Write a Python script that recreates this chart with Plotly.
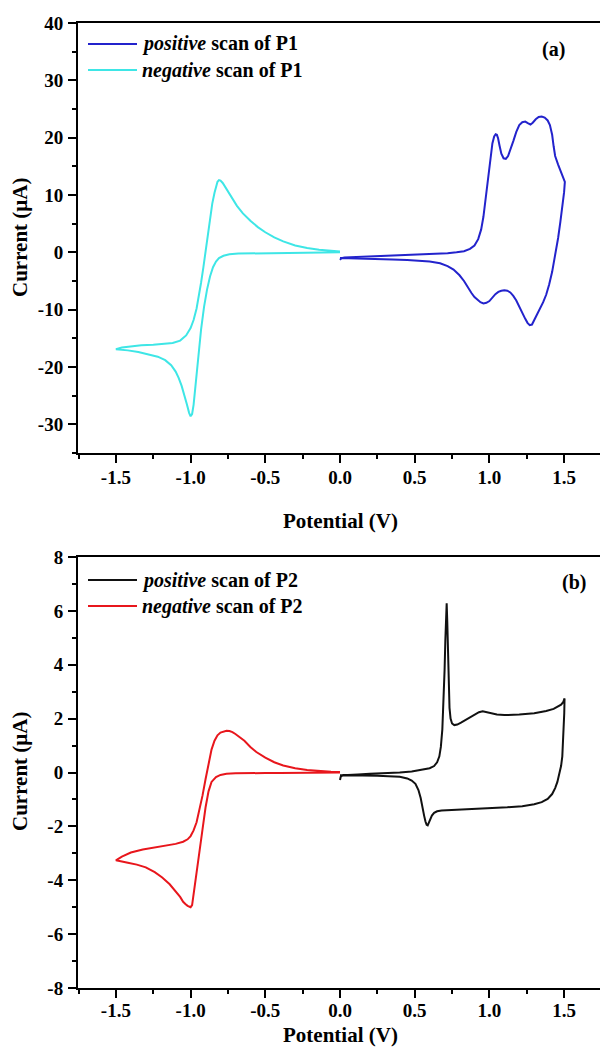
import plotly.graph_objects as go

# ---------------- data (panel a: P1) ----------------
p1_pos_v = [0.00, 0.01, 0.03, 0.08, 0.15, 0.25, 0.35, 0.45, 0.55, 0.65, 0.72, 0.78, 0.83, 0.87, 0.90, 0.925, 0.945,
            0.96, 0.975, 0.99, 1.005, 1.02, 1.032, 1.042, 1.05, 1.058, 1.068, 1.08, 1.095, 1.11, 1.125, 1.14, 1.16,
            1.18, 1.20, 1.22, 1.24, 1.26, 1.275, 1.29, 1.31, 1.33, 1.35, 1.37, 1.39, 1.405, 1.42, 1.43, 1.44, 1.46,
            1.48, 1.495, 1.505,
            1.50, 1.49, 1.475, 1.46, 1.44, 1.42, 1.40, 1.38, 1.36, 1.34, 1.32, 1.30, 1.285, 1.27, 1.255, 1.24,
            1.22, 1.20, 1.18, 1.16, 1.14, 1.12, 1.10, 1.08, 1.06, 1.04, 1.02, 1.00, 0.98, 0.96, 0.94, 0.92, 0.90,
            0.88, 0.86, 0.83, 0.80, 0.76, 0.72, 0.67, 0.60, 0.53, 0.45, 0.35, 0.25, 0.15, 0.08, 0.03, 0.00]
p1_pos_i = [-1.3, -1.0, -0.9, -0.85, -0.8, -0.7, -0.6, -0.5, -0.35, -0.25, -0.15, 0.0, 0.2, 0.6, 1.2, 2.3, 4.0,
            6.2, 9.5, 13.5, 16.8, 19.0, 20.2, 20.6, 20.5, 19.9, 18.6, 17.2, 16.4, 16.3, 16.8, 17.8, 19.4,
            21.0, 22.2, 22.7, 22.8, 22.5, 22.3, 22.6, 23.2, 23.6, 23.7, 23.5, 23.0, 22.2, 20.5, 18.5, 16.8, 15.3,
            14.0, 13.0, 12.3,
            10.5, 8.2, 5.3, 2.5, -0.8, -3.4, -5.6, -7.4, -8.7, -9.8, -10.9, -12.0, -12.6, -12.7, -12.3, -11.6,
            -10.5, -9.4, -8.4, -7.6, -7.0, -6.7, -6.6, -6.7, -6.9, -7.3, -7.9, -8.5, -8.8, -8.9, -8.7, -8.3, -7.8,
            -7.1, -6.2, -5.0, -4.0, -3.0, -2.4, -1.9, -1.6, -1.45, -1.35, -1.25, -1.2, -1.15, -1.1, -1.1, -1.0]

p1_neg_v = [0.00, -0.10, -0.20, -0.30, -0.40, -0.50, -0.60, -0.68, -0.74, -0.78, -0.81, -0.83, -0.85, -0.87, -0.89,
            -0.91, -0.93, -0.945, -0.96, -0.97, -0.98, -0.99, -1.00, -1.01, -1.025, -1.04, -1.06, -1.08, -1.10,
            -1.13, -1.17, -1.22, -1.28, -1.35, -1.42, -1.50,
            -1.46, -1.40, -1.33, -1.25, -1.18, -1.12, -1.07, -1.03, -1.00, -0.98, -0.96, -0.945, -0.93, -0.915,
            -0.90, -0.885, -0.87, -0.855, -0.84, -0.83, -0.82, -0.81, -0.80, -0.785, -0.77, -0.75, -0.72, -0.69,
            -0.65, -0.60, -0.55, -0.50, -0.44, -0.38, -0.30, -0.22, -0.14, -0.06, 0.00]
p1_neg_i = [0.0, -0.02, -0.04, -0.06, -0.08, -0.1, -0.15, -0.22, -0.35, -0.6, -1.0, -1.6, -2.6, -4.2, -6.5,
            -9.5, -13.5, -17.0, -21.0, -24.0, -26.6, -28.2, -28.6, -28.0, -26.5, -25.0, -23.3, -21.9, -20.8,
            -19.7, -18.8, -18.2, -17.8, -17.4, -17.1, -16.9,
            -16.6, -16.4, -16.2, -16.1, -16.0, -15.8, -15.4, -14.5, -13.2, -11.8, -9.8, -7.8, -5.3, -2.7,
            0.2, 3.2, 6.0, 8.5, 10.4, 11.5, 12.3, 12.6, 12.5, 12.1, 11.5, 10.6, 9.3, 8.1,
            6.8, 5.5, 4.4, 3.5, 2.6, 1.9, 1.2, 0.75, 0.45, 0.25, 0.15]

# ---------------- data (panel b: P2) ----------------
p2_pos_v = [0.00, 0.005, 0.02, 0.06, 0.12, 0.20, 0.30, 0.40, 0.48, 0.55, 0.60, 0.63, 0.65, 0.665, 0.675, 0.685,
            0.693, 0.70, 0.705, 0.71, 0.714, 0.718, 0.722, 0.727, 0.733, 0.74, 0.75, 0.765, 0.785, 0.81, 0.84,
            0.87, 0.90, 0.93, 0.955, 0.98, 1.01, 1.05, 1.10, 1.20, 1.30, 1.38, 1.43, 1.46, 1.48, 1.495, 1.503,
            1.501, 1.498, 1.494, 1.488, 1.48, 1.47, 1.455, 1.44, 1.42, 1.39, 1.35, 1.30, 1.22, 1.12, 1.00, 0.88,
            0.78, 0.72, 0.68, 0.65, 0.63, 0.615, 0.603, 0.595, 0.587, 0.58, 0.572, 0.563, 0.553, 0.54, 0.525,
            0.505, 0.48, 0.45, 0.40, 0.33, 0.25, 0.15, 0.07, 0.02, 0.00]
p2_pos_i = [-0.28, -0.15, -0.1, -0.08, -0.07, -0.05, -0.03, 0.0, 0.04, 0.1, 0.16, 0.24, 0.38, 0.6, 0.95, 1.6,
            2.6, 3.8, 4.9, 5.9, 6.28, 5.6, 4.4, 3.2, 2.4, 2.0, 1.82, 1.76, 1.78, 1.85, 1.95,
            2.06, 2.16, 2.24, 2.27, 2.24, 2.18, 2.15, 2.13, 2.15, 2.2, 2.28, 2.36, 2.44, 2.52, 2.62, 2.75,
            2.2, 1.6, 1.05, 0.6, 0.25, -0.05, -0.35, -0.58, -0.8, -0.98, -1.1, -1.18, -1.25, -1.29, -1.32, -1.35,
            -1.37, -1.39, -1.41, -1.44, -1.5, -1.6, -1.75, -1.88, -1.96, -1.94, -1.82, -1.6, -1.3, -0.95, -0.65,
            -0.42, -0.3, -0.22, -0.16, -0.13, -0.12, -0.11, -0.11, -0.12, -0.1]

p2_neg_v = [0.00, -0.10, -0.20, -0.30, -0.40, -0.50, -0.60, -0.70, -0.76, -0.80, -0.83, -0.86, -0.88, -0.90,
            -0.92, -0.94, -0.955, -0.97, -0.98, -0.99, -1.00, -1.01, -1.02, -1.035, -1.05, -1.07, -1.10, -1.14,
            -1.19, -1.24, -1.30, -1.36, -1.42, -1.47, -1.50,
            -1.46, -1.40, -1.32, -1.24, -1.16, -1.10, -1.05, -1.02, -1.00, -0.98, -0.96, -0.94, -0.92, -0.90,
            -0.88, -0.86, -0.84, -0.82, -0.80, -0.78, -0.76, -0.74, -0.72, -0.70, -0.67, -0.64, -0.60, -0.56,
            -0.50, -0.44, -0.38, -0.30, -0.22, -0.14, -0.06, 0.00]
p2_neg_i = [0.0, -0.01, -0.01, -0.01, -0.02, -0.02, -0.02, -0.03, -0.05, -0.09, -0.17, -0.35, -0.7, -1.3,
            -2.1, -2.9, -3.6, -4.3, -4.7, -4.92, -5.0, -4.98, -4.95, -4.88, -4.8, -4.62, -4.4, -4.15,
            -3.9, -3.7, -3.52, -3.42, -3.35, -3.29, -3.26,
            -3.12, -2.97, -2.86, -2.78, -2.71, -2.65, -2.57, -2.48, -2.36, -2.15, -1.85, -1.4, -0.85, -0.25,
            0.35, 0.85, 1.18, 1.38, 1.48, 1.53, 1.55, 1.54, 1.5, 1.43, 1.32, 1.18, 0.95, 0.76,
            0.55, 0.38, 0.26, 0.16, 0.09, 0.05, 0.03, 0.02]

x_tick_vals = [-1.5, -1.0, -0.5, 0.0, 0.5, 1.0, 1.5]
x_tick_text = ["-1.5", "-1.0", "-0.5", "0.0", "0.5", "1.0", "1.5"]
ya_tick_vals = [-30, -20, -10, 0, 10, 20, 30, 40]
ya_tick_text = ["-30", "-20", "-10", "0", "10", "20", "30", "40"]
yb_tick_vals = [-8, -6, -4, -2, 0, 2, 4, 6, 8]
yb_tick_text = ["-8", "-6", "-4", "-2", "0", "2", "4", "6", "8"]

legend_a = ["<b><i>positive</i> scan of P1</b>", "<b><i>negative</i> scan of P1</b>"]
legend_b = ["<b><i>positive</i> scan of P2</b>", "<b><i>negative</i> scan of P2</b>"]

BLUE = "#2323cc"
CYAN = "#3ee6e6"
BLACK = "#111111"
RED = "#e8161c"

W, H = 600, 1047
FONT = "Liberation Serif"


def px(x):
    return x / W


def py(y):
    return 1 - y / H


fig = go.Figure()
line_kw = dict(width=2)
fig.add_trace(go.Scatter(x=p1_pos_v, y=p1_pos_i, mode="lines", line=dict(color=BLUE, **line_kw),
                         xaxis="x", yaxis="y", showlegend=False))
fig.add_trace(go.Scatter(x=p1_neg_v, y=p1_neg_i, mode="lines", line=dict(color=CYAN, **line_kw),
                         xaxis="x", yaxis="y", showlegend=False))
fig.add_trace(go.Scatter(x=p2_pos_v, y=p2_pos_i, mode="lines", line=dict(color=BLACK, **line_kw),
                         xaxis="x2", yaxis="y2", showlegend=False))
fig.add_trace(go.Scatter(x=p2_neg_v, y=p2_neg_i, mode="lines", line=dict(color=RED, **line_kw),
                         xaxis="x2", yaxis="y2", showlegend=False))

tickfont = dict(family=FONT, size=19, color="black", weight="bold")
xrange = [-1.7537, 1.7403]
common_x = dict(range=xrange, tickvals=x_tick_vals, ticktext=x_tick_text, ticks="outside", ticklen=8,
                tickwidth=2, tickcolor="black", showline=True, linewidth=2, linecolor="black",
                mirror=True, showgrid=False, zeroline=False, tickfont=tickfont,
                minor=dict(dtick=0.25, ticks="outside", ticklen=4, tickwidth=2, tickcolor="black", tick0=0),
                automargin=False, fixedrange=True, domain=[px(78), 1])
common_y = dict(ticks="outside", ticklen=8, tickwidth=2, tickcolor="black", showline=True, linewidth=2,
                linecolor="black", showgrid=False, zeroline=False, tickfont=tickfont, automargin=False,
                ticklabelstandoff=1, fixedrange=True)

fig.update_layout(
    width=W, height=H,
    margin=dict(l=0, r=0, t=0, b=0),
    paper_bgcolor="white", plot_bgcolor="white",
    xaxis=dict(anchor="y", ticklabelstandoff=-2, **common_x),
    yaxis=dict(domain=[py(453), py(23)], range=[-35, 40], tickvals=ya_tick_vals, ticktext=ya_tick_text,
               anchor="x", minor=dict(dtick=5, ticks="outside", ticklen=4, tickwidth=2, tickcolor="black"),
               **common_y),
    xaxis2=dict(anchor="y2", ticklabelstandoff=-4, **common_x),
    yaxis2=dict(domain=[py(988), py(557)], range=[-8, 8], tickvals=yb_tick_vals, ticktext=yb_tick_text,
                anchor="x2", minor=dict(dtick=1, ticks="outside", ticklen=4, tickwidth=2, tickcolor="black"),
                **common_y),
    showlegend=False,
)

shapes = []
annotations = []
title_font = dict(family=FONT, size=21, color="black", weight="bold")
lab_font = dict(family=FONT, size=20, color="black")


def add_legend(ys, colors, texts):
    for yv, c, t in zip(ys, colors, texts):
        shapes.append(dict(type="line", xref="paper", yref="paper", x0=px(88), x1=px(137), y0=py(yv), y1=py(yv),
                           line=dict(color=c, width=2)))
        annotations.append(dict(xref="paper", yref="paper", x=px(140), y=py(yv), text=t, showarrow=False,
                                xanchor="left", yanchor="middle", font=lab_font))


add_legend([44, 70], [BLUE, CYAN], legend_a)
add_legend([580, 606], [BLACK, RED], legend_b)

annotations.append(dict(xref="paper", yref="paper", x=px(553), y=py(50), text="<b>(a)</b>", showarrow=False,
                        xanchor="center", yanchor="middle", font=lab_font))
annotations.append(dict(xref="paper", yref="paper", x=px(574), y=py(582), text="<b>(b)</b>", showarrow=False,
                        xanchor="center", yanchor="middle", font=lab_font))

# axis titles
for yc, txt in [(521, "Potential (V)"), (1035, "Potential (V)")]:
    annotations.append(dict(xref="paper", yref="paper", x=px(340), y=py(yc), text="<b>" + txt + "</b>",
                            showarrow=False, xanchor="center", yanchor="middle", font=title_font))
for yc in [238, 772]:
    annotations.append(dict(xref="paper", yref="paper", x=px(20), y=py(yc), text="<b>Current (μA)</b>",
                            showarrow=False, xanchor="center", yanchor="middle", textangle=-90, font=title_font))

fig.update_layout(shapes=shapes, annotations=annotations)
fig.write_html("out.html", config={"displayModeBar": False},
               post_script="document.body.style.margin='0';document.body.style.overflow='hidden';")
